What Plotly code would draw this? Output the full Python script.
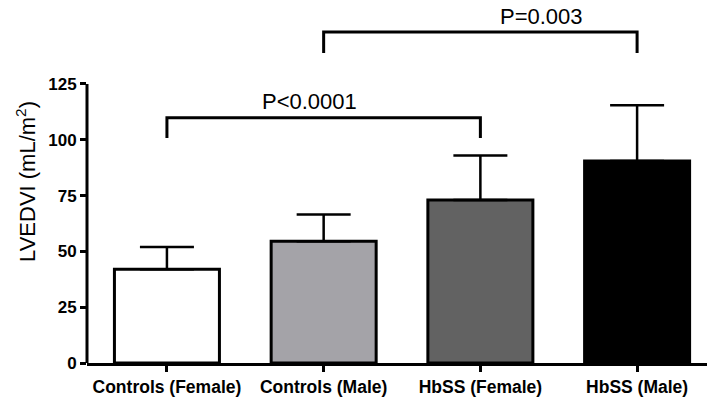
import plotly.graph_objects as go

categories = ["Controls (Female)", "Controls (Male)", "HbSS (Female)", "HbSS (Male)"]
means = [42, 54.5, 73, 90.5]
sd_upper = [10, 12, 20, 25]
bar_colors = ["#ffffff", "#a4a3a8", "#626262", "#000000"]
y_ticks = [0, 25, 50, 75, 100, 125]

# significance brackets: (left index, right index, bar level, leg bottom, label, label x, label y)
brackets = [
    (0, 2, 109.8, 100.8, "P<0.0001", 0.91, 117),
    (1, 3, 148.3, 138.9, "P=0.003", 2.39, 155),
]

xpos = list(range(len(categories)))

fig = go.Figure()
fig.add_trace(go.Bar(
    x=xpos, y=means, width=0.67,
    marker=dict(color=bar_colors, line=dict(color="black", width=3)),
    error_y=dict(type="data", array=sd_upper, arrayminus=[0]*len(means),
                 symmetric=False, color="black", thickness=2.5, width=27),
))

shapes = [
    dict(type="line", xref="paper", yref="y", x0=0, x1=0, y0=0, y1=y_ticks[-1],
         line=dict(color="black", width=3)),
]
annotations = []
for l, r, top, bot, label, lx, ly in brackets:
    shapes.append(dict(type="path", xref="x", yref="y",
                       path=f"M {l},{bot} L {l},{top} L {r},{top} L {r},{bot}",
                       line=dict(color="black", width=3)))
    annotations.append(dict(x=lx, y=ly, xref="x", yref="y", text=label, showarrow=False,
                            xanchor="center", yanchor="middle",
                            font=dict(family="Liberation Sans, Arial", size=22, color="black")))

fig.update_layout(
    width=707, height=399,
    margin=dict(l=87, r=0, t=0, b=36),
    plot_bgcolor="white", paper_bgcolor="white",
    showlegend=False,
    shapes=shapes, annotations=annotations,
    xaxis=dict(range=[-0.51, 3.446], tickvals=xpos, ticktext=categories,
               showline=True, linecolor="black", linewidth=3,
               ticks="outside", ticklen=6, tickwidth=3, tickcolor="black",
               showgrid=False, zeroline=False,
               tickfont=dict(family="Liberation Sans, Arial", size=17.5, color="black", weight="bold")),
    yaxis=dict(range=[0, 162.6], tickvals=y_ticks, ticktext=[str(v) for v in y_ticks],
               showline=False, ticks="outside", ticklen=6, tickwidth=3, tickcolor="black",
               showgrid=False, zeroline=False,
               tickfont=dict(family="Liberation Sans, Arial", size=17, color="black", weight="bold"),
               title=dict(text="LVEDVI (mL/m<sup>2</sup>)", standoff=6,
                          font=dict(family="Liberation Sans, Arial", size=22, color="black"))),
)

fig.write_html("out.html")
